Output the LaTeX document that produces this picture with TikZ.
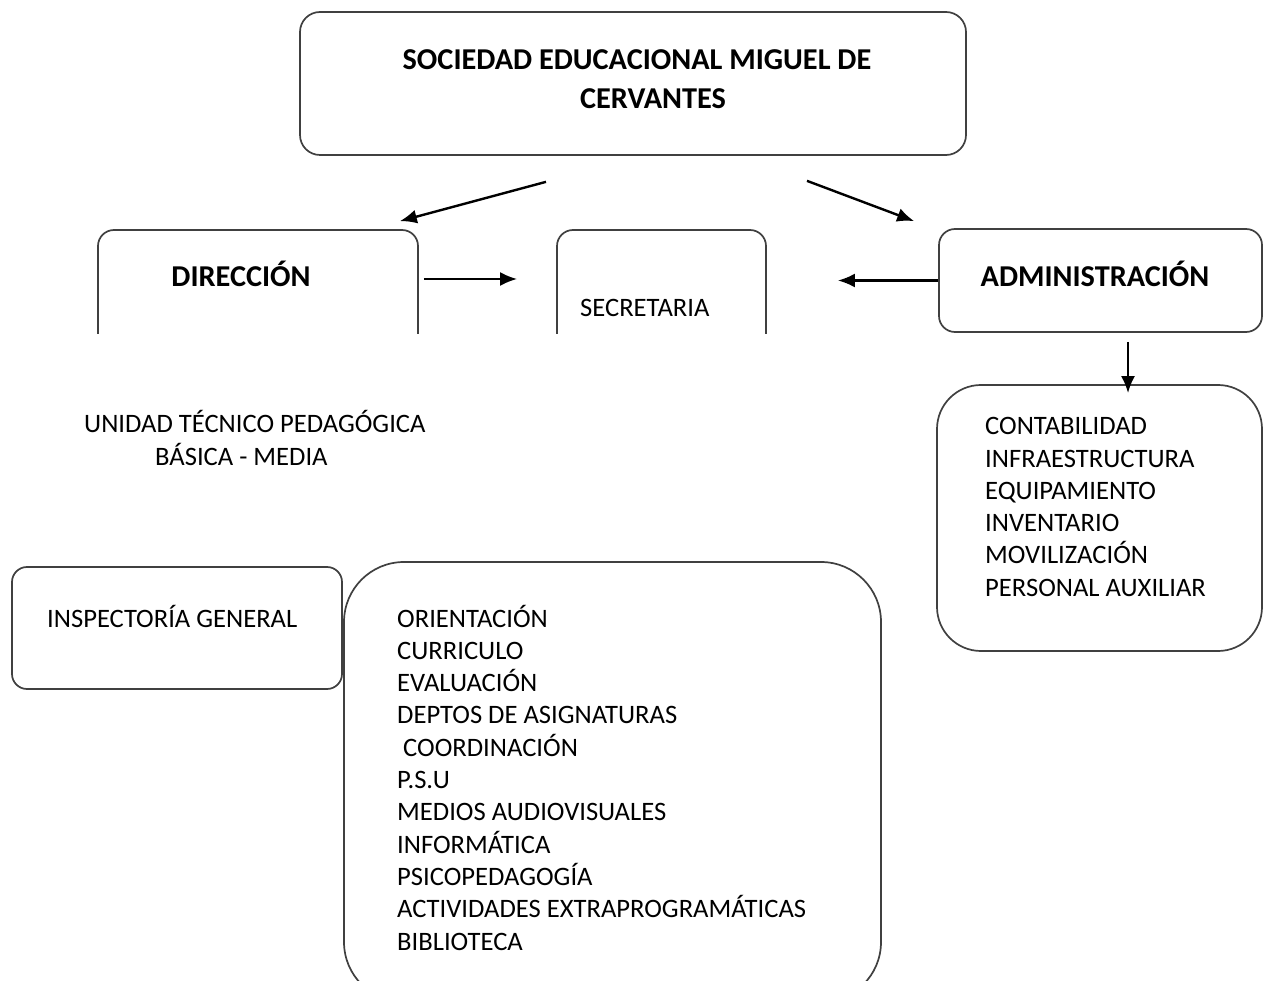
\documentclass[tikz,border=0pt]{standalone}
\usepackage{fontspec}
\setmainfont{Carlito}
\usetikzlibrary{arrows.meta}
\begin{document}
\begin{tikzpicture}[x=1pt, y=-1pt, line join=round, >={Latex[length=17pt,width=14pt]},
 caja/.style={draw=black!75, line width=1.7pt, rounded corners=#1, inner sep=0pt},
 caja/.default=16pt,
 flecha/.style={->, line width=2.4pt},
 txt/.style={inner sep=0pt, anchor=base west, font=\fontsize{26.6}{31}\selectfont},
 tit/.style={inner sep=0pt, anchor=base, font=\fontsize{30.3}{36}\selectfont\bfseries}]
 \path[use as bounding box, fill=white] (0,0) rectangle (1264,981);
 \def\hl{32.2} \def\hp{32.3}
 \node[caja=20pt, minimum width=666pt, minimum height=143pt] (soc) at (633,83.5) {};
 \node[tit] (soc-1) at (637,70) {SOCIEDAD EDUCACIONAL MIGUEL DE};
 \node[tit] (soc-2) at (653,109) {CERVANTES};
 \begin{scope}
  \clip (0,0) rectangle (1264,334);
  \node[caja, minimum width=320pt, minimum height=130pt] (dir) at (258,295) {};
  \node[caja, minimum width=209pt, minimum height=130pt] (sec) at (661.5,295) {};
 \end{scope}
 \node[tit] (dir-t) at (241,287) {DIRECCIÓN};
 \node[txt] (sec-t) at (580,317) {SECRETARIA};
 \node[caja, minimum width=323pt, minimum height=103pt] (adm) at (1100.5,280.5) {};
 \node[tit] (adm-t) at (1095,287) {ADMINISTRACIÓN};
 \node[caja=44pt, minimum width=325pt, minimum height=266pt] (admlist) at (1099.5,518) {};
 \foreach \t [count=\i] in {CONTABILIDAD,INFRAESTRUCTURA,EQUIPAMIENTO,INVENTARIO,MOVILIZACIÓN,PERSONAL AUXILIAR}
  \node[txt] (adm-\i) at (985,435+\hl*\i-\hl) {\t};
 \node[txt] (utp-1) at (84,433) {UNIDAD TÉCNICO PEDAGÓGICA};
 \node[txt] (utp-2) at (155,465) {BÁSICA - MEDIA};
 \node[caja=15pt, minimum width=330pt, minimum height=122pt] (ins) at (177,628) {};
 \node[txt] (ins-t) at (47,627) {INSPECTORÍA GENERAL};
 \begin{scope}
  \clip (0,0) rectangle (1264,981);
  \node[caja=60pt, minimum width=537pt, minimum height=440pt] (ped) at (612.5,782) {};
 \end{scope}
 \foreach \t [count=\i] in {ORIENTACIÓN,CURRICULO,EVALUACIÓN,DEPTOS DE ASIGNATURAS,\ COORDINACIÓN,P.S.U,MEDIOS AUDIOVISUALES,INFORMÁTICA,PSICOPEDAGOGÍA,ACTIVIDADES EXTRAPROGRAMÁTICAS,BIBLIOTECA}
  \node[txt] (ped-\i) at (397,627+\hp*\i-\hp) {\t};
 \draw[flecha] ([shift={(-87,26)}]soc.south) -- ([shift={(-19,-8)}]dir.north east);
 \draw[flecha] ([shift={(174,25)}]soc.south) -- ([shift={(-24,-7)}]adm.north west);
 \draw[flecha] ([shift={(5,-16)}]dir.east) -- ([shift={(-39,-16)}]sec.west);
 \draw[flecha] (adm.west) -- ([xshift=71pt]sec.east |- adm.west);
 \draw[flecha] ([shift={(27.5,9)}]adm.south) -- ([shift={(27.5,9)}]adm.south |- admlist.north);
\end{tikzpicture}
\end{document}
